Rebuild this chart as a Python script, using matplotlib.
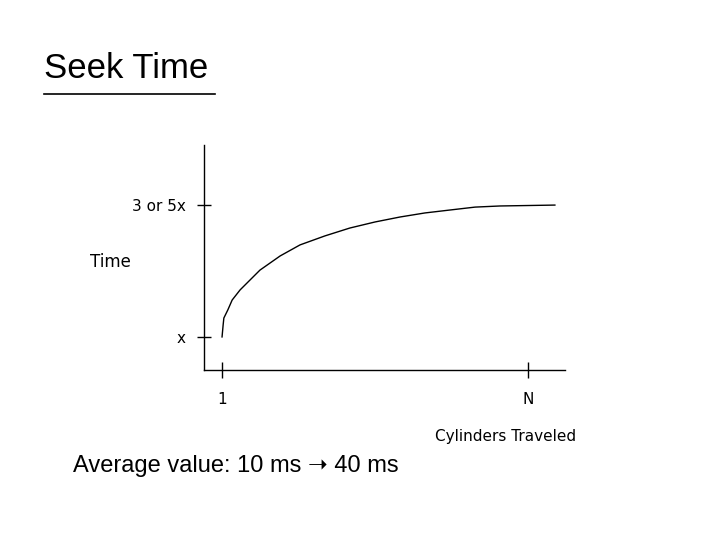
import matplotlib.pyplot as plt
from matplotlib.lines import Line2D

# curve, in axis fractions (cylinders, time)
cyl = [0.050, 0.053, 0.055, 0.066, 0.078, 0.100, 0.155, 0.211, 0.266, 0.335,
       0.404, 0.474, 0.543, 0.612, 0.681, 0.751, 0.820, 0.972]
seek = [0.147, 0.200, 0.231, 0.267, 0.311, 0.356, 0.444, 0.507, 0.556, 0.596,
        0.631, 0.658, 0.680, 0.698, 0.711, 0.724, 0.729, 0.733]
x_ticks = [0.05, 0.897]
x_labels = ['1', 'N']
y_ticks = [0.147, 0.733]
y_labels = ['x', '3 or 5x']

fig = plt.figure(figsize=(7.2, 5.4), dpi=100)
W, H = 720, 540
ax = fig.add_axes([204 / W, 1 - 370 / H, 361 / W, 225 / H])
ax.plot(cyl, seek, color='black', lw=1)
ax.set_xlim(0, 1)
ax.set_ylim(0, 1)
ax.spines['top'].set_visible(False)
ax.spines['right'].set_visible(False)
for s in ['left', 'bottom']:
    ax.spines[s].set_linewidth(1)
ax.set_xticks(x_ticks)
ax.set_xticklabels(x_labels, fontsize=11)
ax.set_yticks(y_ticks)
ax.set_yticklabels(y_labels, fontsize=11)
ax.tick_params(axis='x', direction='inout', length=12, width=1, pad=10)
ax.tick_params(axis='y', direction='inout', length=10, width=1, pad=8)

fig.text(44 / W, 1 - 68 / H, 'Seek Time', fontsize=25, family='Liberation Sans', va='center')
fig.add_artist(Line2D([44 / W, 215 / W], [1 - 94 / H, 1 - 94 / H], color='black', lw=1.2))
fig.text(90 / W, 1 - 262 / H, 'Time', fontsize=12, va='center')
fig.text(576 / W, 1 - 436 / H, 'Cylinders Traveled', fontsize=11, ha='right', va='center')
fig.text(73 / W, 1 - 466 / H, 'Average value: 10 ms \u279D 40 ms', fontsize=17,
         family=['Liberation Sans', 'DejaVu Sans'], va='center')

fig.savefig('out.png', dpi=100)
